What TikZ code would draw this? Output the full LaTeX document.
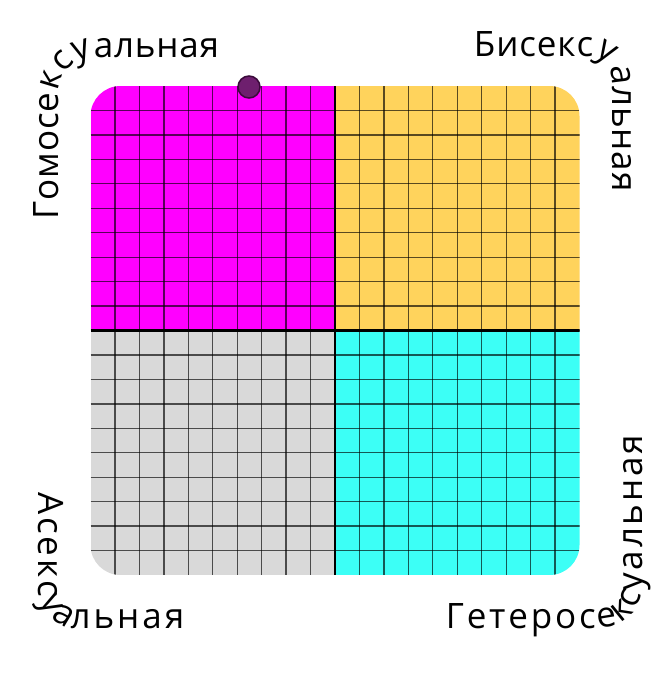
\documentclass[tikz,border=0pt]{standalone}
\usepackage{fontspec}
\setmainfont{Open Sans}
\usetikzlibrary{decorations.text}
\definecolor{quadpink}{HTML}{FF00FF}
\definecolor{quadyellow}{HTML}{FFD35C}
\definecolor{quadgray}{HTML}{D9D9D9}
\definecolor{quadcyan}{HTML}{3CFFF6}
\definecolor{markerfill}{HTML}{6E1F6E}
\definecolor{markerdraw}{HTML}{3A0A3A}
\newcommand{\labelsize}{\fontsize{35}{35}\selectfont}

\begin{document}
\begin{tikzpicture}[x=1pt, y=-1pt,
    quad/.style={fill=#1},
    gridline/.style={black, opacity=0.65, line width=1.3pt},
    axisline/.style={black, line width=2.6pt},
    curvetext/.style n args={3}{decorate, rounded corners=#2,
        decoration={text along path, text={|\labelsize\kern#3|#1}}},
    marker/.style={circle, fill=markerfill, draw=markerdraw, line width=1.5pt, minimum size=22pt, inner sep=0pt}
]
\useasboundingbox (0,0) rectangle (667,680);

% quadrants, clipped to the rounded square
\begin{scope}
\clip[rounded corners=30pt] (90.5,86) rectangle (579.5,575);
\fill[quad=quadpink] (90.5,86) rectangle (335,330.5);
\fill[quad=quadyellow] (335,86) rectangle (579.5,330.5);
\fill[quad=quadgray] (90.5,330.5) rectangle (335,575);
\fill[quad=quadcyan] (335,330.5) rectangle (579.5,575);
\foreach \i in {1,...,19} {
    \draw[gridline] (90.5+24.45*\i,86) -- (90.5+24.45*\i,575);
    \draw[gridline] (90.5,86+24.45*\i) -- (579.5,86+24.45*\i);
}
\draw[axisline] (335,86) -- (335,575);
\draw[axisline] (90.5,330.5) -- (579.5,330.5);
\end{scope}

\node[marker] (point) at (249,87) {};

\path[curvetext={Гомосексуальная}{37pt}{0.8pt}] (58,220) -- (58,57) -- (330,57);
\path[curvetext={Бисексуальная}{22pt}{0.9pt}] (473,56) -- (612,56) -- (612,330);
\path[curvetext={Асексуальная}{40pt}{3pt}] (38,489) -- (38,628) -- (330,628);
\path[curvetext={Гетеросексуальная}{42pt}{2.8pt}] (443,628) -- (642,628) -- (642,300);

\end{tikzpicture}
\end{document}
